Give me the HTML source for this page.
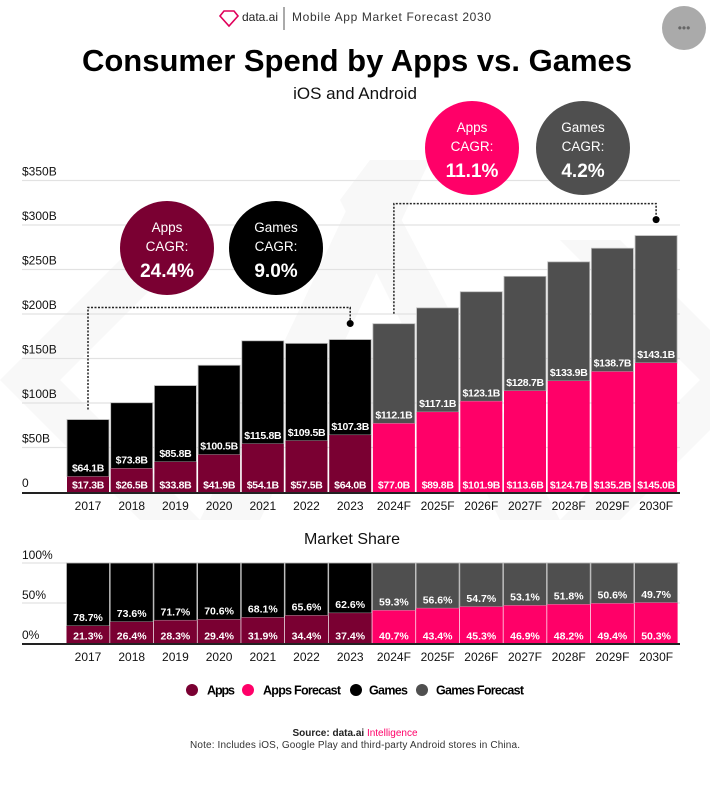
<!DOCTYPE html>
<html><head><meta charset="utf-8">
<style>
html,body{margin:0;padding:0;background:#fff;}
body{width:710px;height:785px;overflow:hidden;font-family:"Liberation Sans",sans-serif;}
svg text{font-family:"Liberation Sans",sans-serif;}
</style></head>
<body>
<svg id="c" width="710" height="785" viewBox="0 0 710 785" xmlns="http://www.w3.org/2000/svg">
  <g fill="#f8f8f8">
    <polygon points="0,380 140,240 200,240 60,380 200,520 140,520"/>
    <polygon points="200,520 370,160 430,160 260,520"/>
    <polygon points="370,160 560,520 500,520 340,200"/>
    <polygon points="560,520 700,380 560,240 620,240 710,330 710,430 620,520"/>
  </g>
  <g>
    <polygon points="224,11 234,11 238,16 229,26 220,16" fill="none" stroke="#e0005a" stroke-width="1.6"/>
    <text x="242" y="21" font-size="12" fill="#222" textLength="36">data.ai</text>
    <line x1="284" y1="7" x2="284" y2="30" stroke="#555" stroke-width="1"/>
    <text x="292" y="21" font-size="12" fill="#333" textLength="199">Mobile App Market Forecast 2030</text>
  </g>
  <circle cx="684" cy="28" r="22" fill="#aaa"/>
  <text x="684" y="32" font-size="12" fill="#666" text-anchor="middle">•••</text>
  <text x="357" y="71" font-size="31" font-weight="bold" fill="#000" text-anchor="middle" textLength="550">Consumer Spend by Apps vs. Games</text>
  <text x="355" y="99" font-size="17" fill="#111" text-anchor="middle">iOS and Android</text>
  <g id="grid"></g>
  <g id="bars"></g>
  <g id="share"></g>
  <g id="ann"></g>
  <g>
    <g><circle cx="192" cy="690" r="6" fill="#7a0032"/><text x="207" y="694.5" font-size="12.5" font-weight="bold" textLength="28">Apps</text></g>
    <g><circle cx="248" cy="690" r="6" fill="#ff0068"/><text x="263" y="694.5" font-size="12.5" font-weight="bold" textLength="78">Apps Forecast</text></g>
    <g><circle cx="356" cy="690" r="6" fill="#000"/><text x="369" y="694.5" font-size="12.5" font-weight="bold" textLength="39">Games</text></g>
    <g><circle cx="422" cy="690" r="6" fill="#4f4f4f"/><text x="436" y="694.5" font-size="12.5" font-weight="bold" textLength="88">Games Forecast</text></g>
  </g>
  <text x="355" y="736" font-size="10" text-anchor="middle" font-weight="bold" fill="#222">Source: data.ai <tspan fill="#ff0068" font-weight="normal">Intelligence</tspan></text>
  <text x="355" y="748" font-size="10" text-anchor="middle" fill="#333" textLength="330">Note: Includes iOS, Google Play and third-party Android stores in China.</text>
</svg>
<script>
const yearsList=["2017","2018","2019","2020","2021","2022","2023","2024F","2025F","2026F","2027F","2028F","2029F","2030F"];
const appsSpend=[17.3,26.5,33.8,41.9,54.1,57.5,64.0,77.0,89.8,101.9,113.6,124.7,135.2,145.0];
const gamesSpend=[64.1,73.8,85.8,100.5,115.8,109.5,107.3,112.1,117.1,123.1,128.7,133.9,138.7,143.1];
const appsShare=[21.3,26.4,28.3,29.4,31.9,34.4,37.4,40.7,43.4,45.3,46.9,48.2,49.4,50.3];
const gamesShare=[78.7,73.6,71.7,70.6,68.1,65.6,62.6,59.3,56.6,54.7,53.1,51.8,50.6,49.7];
const forecastStart=7;
const yTicks=[0,50,100,150,200,250,300,350];
const shareTicks=[0,50,100];

const NS="http://www.w3.org/2000/svg";
function mk(parent,tag,attrs,txt){const e=document.createElementNS(NS,tag);for(const k in attrs)e.setAttribute(k,attrs[k]);if(txt!==undefined)e.textContent=txt;parent.appendChild(e);return e;}
const base=492, scale=311.5/350;
const y=v=>base-v*scale;
const x0=67, pitch=43.7, bw=42;
const xb=i=>x0+i*pitch;
const sBase=643, sTop=563;
const ys=v=>sBase-(sBase-sTop)*v/100;

const grid=document.getElementById('grid');
yTicks.forEach(t=>{
  const g=mk(grid,'g',{});
  
  
  if(t>0) mk(g,'line',{x1:22,x2:680,y1:y(t),y2:y(t),stroke:'#e2e2e2','stroke-width':1.3});
  const lb=mk(g,'text',{x:22,y:y(t)-5,'font-size':12,fill:'#111'},t===0?'0':'$'+t+'B');
  
  
});
shareTicks.forEach(t=>{
  const g=mk(grid,'g',{});
  
  
  if(t>0) mk(g,'line',{x1:22,x2:680,y1:ys(t),y2:ys(t),stroke:'#e2e2e2','stroke-width':1.3});
  const lb=mk(g,'text',{x:22,y:ys(t)-4,'font-size':12,fill:'#111'},t+'%');
  
  
});
mk(grid,'line',{x1:22,x2:680,y1:base+1,y2:base+1,stroke:'#222','stroke-width':2});
mk(grid,'line',{x1:22,x2:680,y1:sBase+1,y2:sBase+1,stroke:'#222','stroke-width':2});
const mt=mk(grid,'text',{x:352,y:544,'font-size':16,'text-anchor':'middle',fill:'#111'},'Market Share');



const bars=document.getElementById('bars');
yearsList.forEach((yr,i)=>{
  const f=i>=forecastStart;
  const ac=f?'#ff0068':'#7a0032', gc=f?'#4f4f4f':'#000';
  const a=appsSpend[i], g=gamesSpend[i];
  const cx=xb(i)+bw/2;
  const grp=mk(bars,'g',{});
  
  
  const rg=mk(grp,'rect',{x:xb(i),y:y(a+g),width:bw,height:y(a)-y(a+g),fill:gc,stroke:'#bbb','stroke-width':0.8});
  
  
  const ra=mk(grp,'rect',{x:xb(i),y:y(a),width:bw,height:base-y(a),fill:ac});
  
  
  const la=mk(grp,'text',{x:cx,y:base-3.5,'font-size':10.5,'font-weight':'bold',fill:'#fff','text-anchor':'middle','letter-spacing':'-0.3'},'$'+a.toFixed(1)+'B');
  
  
  const lg=mk(grp,'text',{x:cx,y:y(a)-5,'font-size':10.5,'font-weight':'bold',fill:'#fff','text-anchor':'middle','letter-spacing':'-0.3'},'$'+g.toFixed(1)+'B');
  
  
  const xl=mk(grp,'text',{x:cx,y:510,'font-size':12,fill:'#111','text-anchor':'middle'},yr);
  
  
});

const share=document.getElementById('share');
yearsList.forEach((yr,i)=>{
  const f=i>=forecastStart;
  const ac=f?'#ff0068':'#7a0032', gc=f?'#4f4f4f':'#000';
  const a=appsShare[i], g=gamesShare[i];
  const cx=xb(i)+bw/2;
  const grp=mk(share,'g',{});
  
  
  const rg=mk(grp,'rect',{x:xb(i)-0.5,y:ys(a+g),width:bw+1,height:ys(a)-ys(a+g),fill:gc,stroke:'#bbb','stroke-width':0.8});
  
  
  const ra=mk(grp,'rect',{x:xb(i)-0.5,y:ys(a),width:bw+1,height:sBase-ys(a),fill:ac});
  
  
  const la=mk(grp,'text',{x:cx,y:sBase-3.5,'font-size':10.5,'font-weight':'bold',fill:'#fff','text-anchor':'middle'},a.toFixed(1)+'%');
  
  
  const lg=mk(grp,'text',{x:cx,y:ys(a)-5,'font-size':10.5,'font-weight':'bold',fill:'#fff','text-anchor':'middle'},g.toFixed(1)+'%');
  
  
  const xl=mk(grp,'text',{x:cx,y:661,'font-size':12,fill:'#111','text-anchor':'middle'},yr);
  
  
});

const ann=document.getElementById('ann');
function bracket(i0,i1,name){
  const xa=xb(i0)+bw/2, xc=xb(i1)+bw/2;
  const top0=y(appsSpend[i0]+gamesSpend[i0])-10, top1=y(appsSpend[i1]+gamesSpend[i1])-10;
  const yh=Math.min(top0,top1)-22;
  const p=mk(ann,'polyline',{points:`${xa},${top0} ${xa},${yh} ${xc},${yh} ${xc},${top1-7}`,fill:'none',stroke:'#222','stroke-width':1.5,'stroke-dasharray':'2,1.5'});
  
  
  const d=mk(ann,'circle',{cx:xc,cy:top1-6,r:3.5,fill:'#000'});
  
  
}
bracket(0,6,'historical-cagr-bracket');
bracket(7,13,'forecast-cagr-bracket');
function badge(cx,cy,r,fill,l1,val,name){
  const g=mk(ann,'g',{});
  
  
  mk(g,'circle',{cx,cy,r,fill});
  mk(g,'text',{x:cx,y:cy-16,'font-size':13.5,fill:'#fff','text-anchor':'middle'},l1);
  mk(g,'text',{x:cx,y:cy+3,'font-size':13.5,fill:'#fff','text-anchor':'middle'},'CAGR:');
  mk(g,'text',{x:cx,y:cy+29,'font-size':19,'font-weight':'bold',fill:'#fff','text-anchor':'middle'},val);
}
badge(167,248,47,'#7a0032','Apps','24.4%','apps-cagr-badge');
badge(276,248,47,'#000','Games','9.0%','games-cagr-badge');
badge(472,148,47,'#ff0068','Apps','11.1%','apps-forecast-cagr-badge');
badge(583,148,47,'#4f4f4f','Games','4.2%','games-forecast-cagr-badge');
</script>
</body></html>
